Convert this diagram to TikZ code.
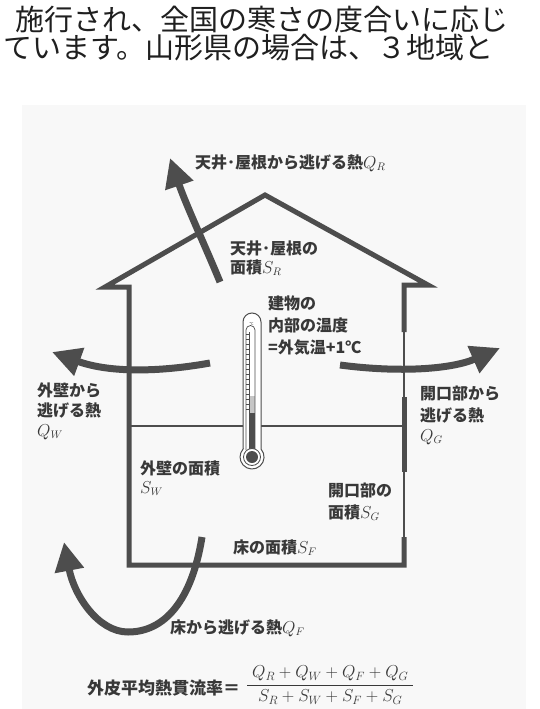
\documentclass[tikz,border=0pt]{standalone}
\usepackage{fontspec}
\usepackage{amsmath}
\newfontfamily\jp{Noto Sans CJK JP}
\usetikzlibrary{arrows.meta}
\definecolor{ink}{HTML}{4D4D4D}
\definecolor{txt}{HTML}{383838}
\definecolor{paper}{HTML}{F8F8F8}

\tikzset{
  wall/.style={draw=ink, line width=5pt, line join=miter, line cap=butt},
  thinwall/.style={draw=ink, line width=1.4pt},
  heat/.style={draw=ink, line width=7pt, -{Triangle[length=29pt,width=28pt]}},
  therm/.style={draw=ink, line width=1pt},
  lbl/.style={anchor=base west, inner sep=0pt, text=txt,
    font=\jp\bfseries\fontsize{16}{16}\selectfont},
  body/.style={anchor=base west, inner sep=0pt, text=black!88,
    font=\jp\fontsize{29}{29}\selectfont},
}

\begin{document}
\begin{tikzpicture}[x=1pt,y=-1pt]
  \useasboundingbox (0,0) rectangle (539,709);
  \fill[white] (0,0) rectangle (539,709);
  \fill[paper] (22,105) rectangle (526,709);

  % running text above the figure
  \node[body] (line1) at (15,31) {施行され、全国の寒さの度合いに応じ};
  \node[body] (line2) at (3,59) {ています。山形県の場合は、３地域と};

  % house outline: floor, left wall, roof and the top of the right wall
  \draw[wall] (404,537) -- (404,565) -- (129,565) -- (129,287) -- (105,287)
    -- (265,195) -- (428,285) -- (404,285) -- (404,332);
  % right wall: thin wall lines between the openings
  \draw[thinwall] (404,332) -- (404,397);
  \draw[wall] (404,397) -- (404,472);
  \draw[thinwall] (404,472) -- (404,537);

  % ground line inside the house
  \draw[thinwall, line width=1.2pt] (129,426) -- (243,426);
  \draw[thinwall, line width=1.2pt] (261,426) -- (404,426);

  % thermometer
  \draw[therm, fill=white] (243,449) -- (243,322)
    arc[start angle=180, end angle=360, radius=9] -- (261,449)
    arc[start angle=-41.8, end angle=221.8, radius=12] -- cycle;
  \fill[gray!45] (249,396) rectangle (255,413);
  \fill[ink] (249,413) rectangle (255,452);
  \draw[therm, line width=0.7pt] (246,450) -- (246,330)
    arc[start angle=180, end angle=360, radius=4.5] -- (255,450);
  \draw[therm, line width=0.6pt] (249,332) -- (249,413);
  \foreach \t in {334,339,...,410} \draw[therm, line width=0.5pt] (246,\t) -- (249,\t);
  \draw[therm, line width=0.8pt, fill=white] (252,457) circle (8.5);
  \fill[ink] (252,457) circle (6);
  \node[inner sep=0pt, text=txt, font=\jp\fontsize{4}{4}\selectfont] (deg) at (251.5,324) {℃};

  % heat flows
  \coordinate (rfrom) at (220,282);
  \coordinate (rto) at (170,158);
  \draw[heat] (rfrom) .. controls (207,250) and (186,205) .. (rto);
  \coordinate (wfrom) at (210,363);
  \coordinate (wto) at (52,352);
  \draw[heat] (wfrom) .. controls (160,372) and (110,373) .. (wto);
  \coordinate (gfrom) at (340,365);
  \coordinate (gto) at (500,348);
  \draw[heat] (gfrom) .. controls (400,373) and (452,369) .. (gto);
  \coordinate (ffrom) at (202,537);
  \coordinate (fmid) at (128,632);
  \coordinate (fto) at (64,542);
  \draw[heat] (ffrom) .. controls (192,600) and (165,632) .. (fmid)
    .. controls (98,632) and (74,595) .. (fto);

  % labels
  \node[lbl] (qr) at (195,168) {天井･屋根から逃げる熱$Q_R$};
  \node[lbl] (sr1) at (230,254) {天井･屋根の};
  \node[lbl] (sr2) at (230,273) {面積$S_R$};
  \node[lbl] (in1) at (268,309) {建物の};
  \node[lbl] (in2) at (268,331) {内部の温度};
  \node[lbl] (in3) at (268,353) {=外気温+1℃};
  \node[lbl] (qw1) at (37,396) {外壁から};
  \node[lbl] (qw2) at (37,416) {逃げる熱};
  \node[lbl] (qw3) at (37,436) {$Q_W$};
  \node[lbl] (qg1) at (420,399) {開口部から};
  \node[lbl] (qg2) at (420,421) {逃げる熱};
  \node[lbl] (qg3) at (420,441) {$Q_G$};
  \node[lbl] (sw1) at (140,474) {外壁の面積};
  \node[lbl] (sw2) at (140,493) {$S_W$};
  \node[lbl] (sg1) at (328,496) {開口部の};
  \node[lbl] (sg2) at (328,518) {面積$S_G$};
  \node[lbl] (sf) at (233,553) {床の面積$S_F$};
  \node[lbl] (qf) at (170,633) {床から逃げる熱$Q_F$};

  % average heat transmission coefficient
  \node[lbl, font=\jp\bfseries\fontsize{17}{17}\selectfont] (ua) at (87,694) {外皮平均熱貫流率＝};
  \node[anchor=base west, inner sep=0pt, text=txt, font=\fontsize{18.5}{18.5}\selectfont] (frac) at (246,689.6)
    {$\displaystyle\frac{\;Q_R+Q_W+Q_F+Q_G\;}{S_R+S_W+S_F+S_G}$};
\end{tikzpicture}
\end{document}
